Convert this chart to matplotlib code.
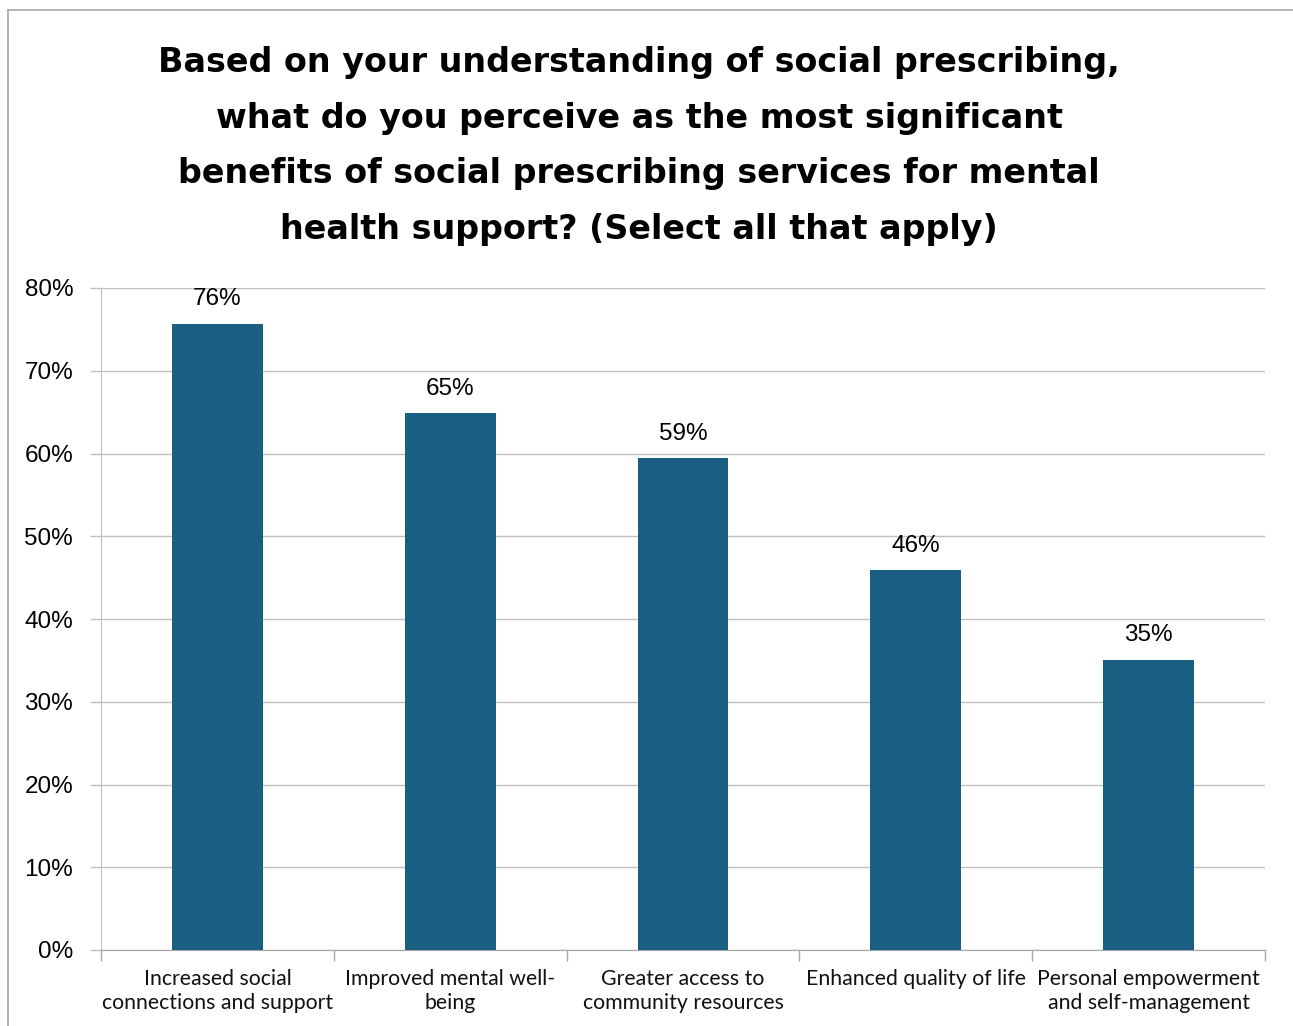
import matplotlib
matplotlib.use("Agg")
import matplotlib.pyplot as plt
from matplotlib.lines import Line2D

categories = ["Increased social\nconnections and support", "Improved mental well-\nbeing",
              "Greater access to\ncommunity resources", "Enhanced quality of life",
              "Personal empowerment\nand self-management"]
values = [75.7, 64.9, 59.4, 45.9, 35.1]
labels = ["76%", "65%", "59%", "46%", "35%"]
yticks = [0, 10, 20, 30, 40, 50, 60, 70, 80]
title = ("Based on your understanding of social prescribing,\n"
         "what do you perceive as the most significant\n"
         "benefits of social prescribing services for mental\n"
         "health support? (Select all that apply)")

W, H = 1293, 1026
fig = plt.figure(figsize=(W/100, H/100), dpi=100)
ax = fig.add_axes([101/W, 1-950/H, (1265-101)/W, (950-288)/H])

bar_color = "#1A5F81"
x = list(range(len(categories)))
ax.bar(x, values, width=0.39, color=bar_color, zorder=3)
ax.set_xlim(-0.5, len(categories)-0.5)
ax.set_ylim(0, 80)
ax.set_yticks(yticks)
ax.set_yticklabels([f"{v}%" for v in yticks], fontsize=17.5, family="Liberation Sans")
ax.grid(axis="y", color="#BFBFBF", linewidth=1, zorder=0)
ax.set_xticks([i+0.5 for i in range(-1, len(categories))])
ax.set_xticklabels([])
ax.tick_params(axis="x", length=8, color="#A6A6A6", width=1, direction="out")
ax.tick_params(axis="y", length=8, color="#BFBFBF", width=1, direction="out", pad=12)
for s in ["top", "right"]:
    ax.spines[s].set_visible(False)
ax.spines["left"].set_color("#BFBFBF")
ax.spines["bottom"].set_color("#A6A6A6")

for i, c in enumerate(categories):
    ax.text(i, -2.25, c, ha="center", va="top", fontsize=15.3, family="Lato",
            linespacing=1.3, color="#111111")
for i, (v, l) in enumerate(zip(values, labels)):
    ax.text(i, v + 1.6, l, ha="center", va="bottom", fontsize=17.5, family="Liberation Sans")

fig.text(639/W, 1-146/H, title, ha="center", va="center", fontsize=24,
         fontweight="heavy", family="DejaVu Sans", linespacing=1.88)

fig.add_artist(Line2D([8/W, 8/W], [0, 1-10/H], transform=fig.transFigure, color="#A6A6A6", lw=1.2))
fig.add_artist(Line2D([8/W, 1], [1-10/H, 1-10/H], transform=fig.transFigure, color="#A6A6A6", lw=1.2))

fig.savefig("out.png", dpi=100)
